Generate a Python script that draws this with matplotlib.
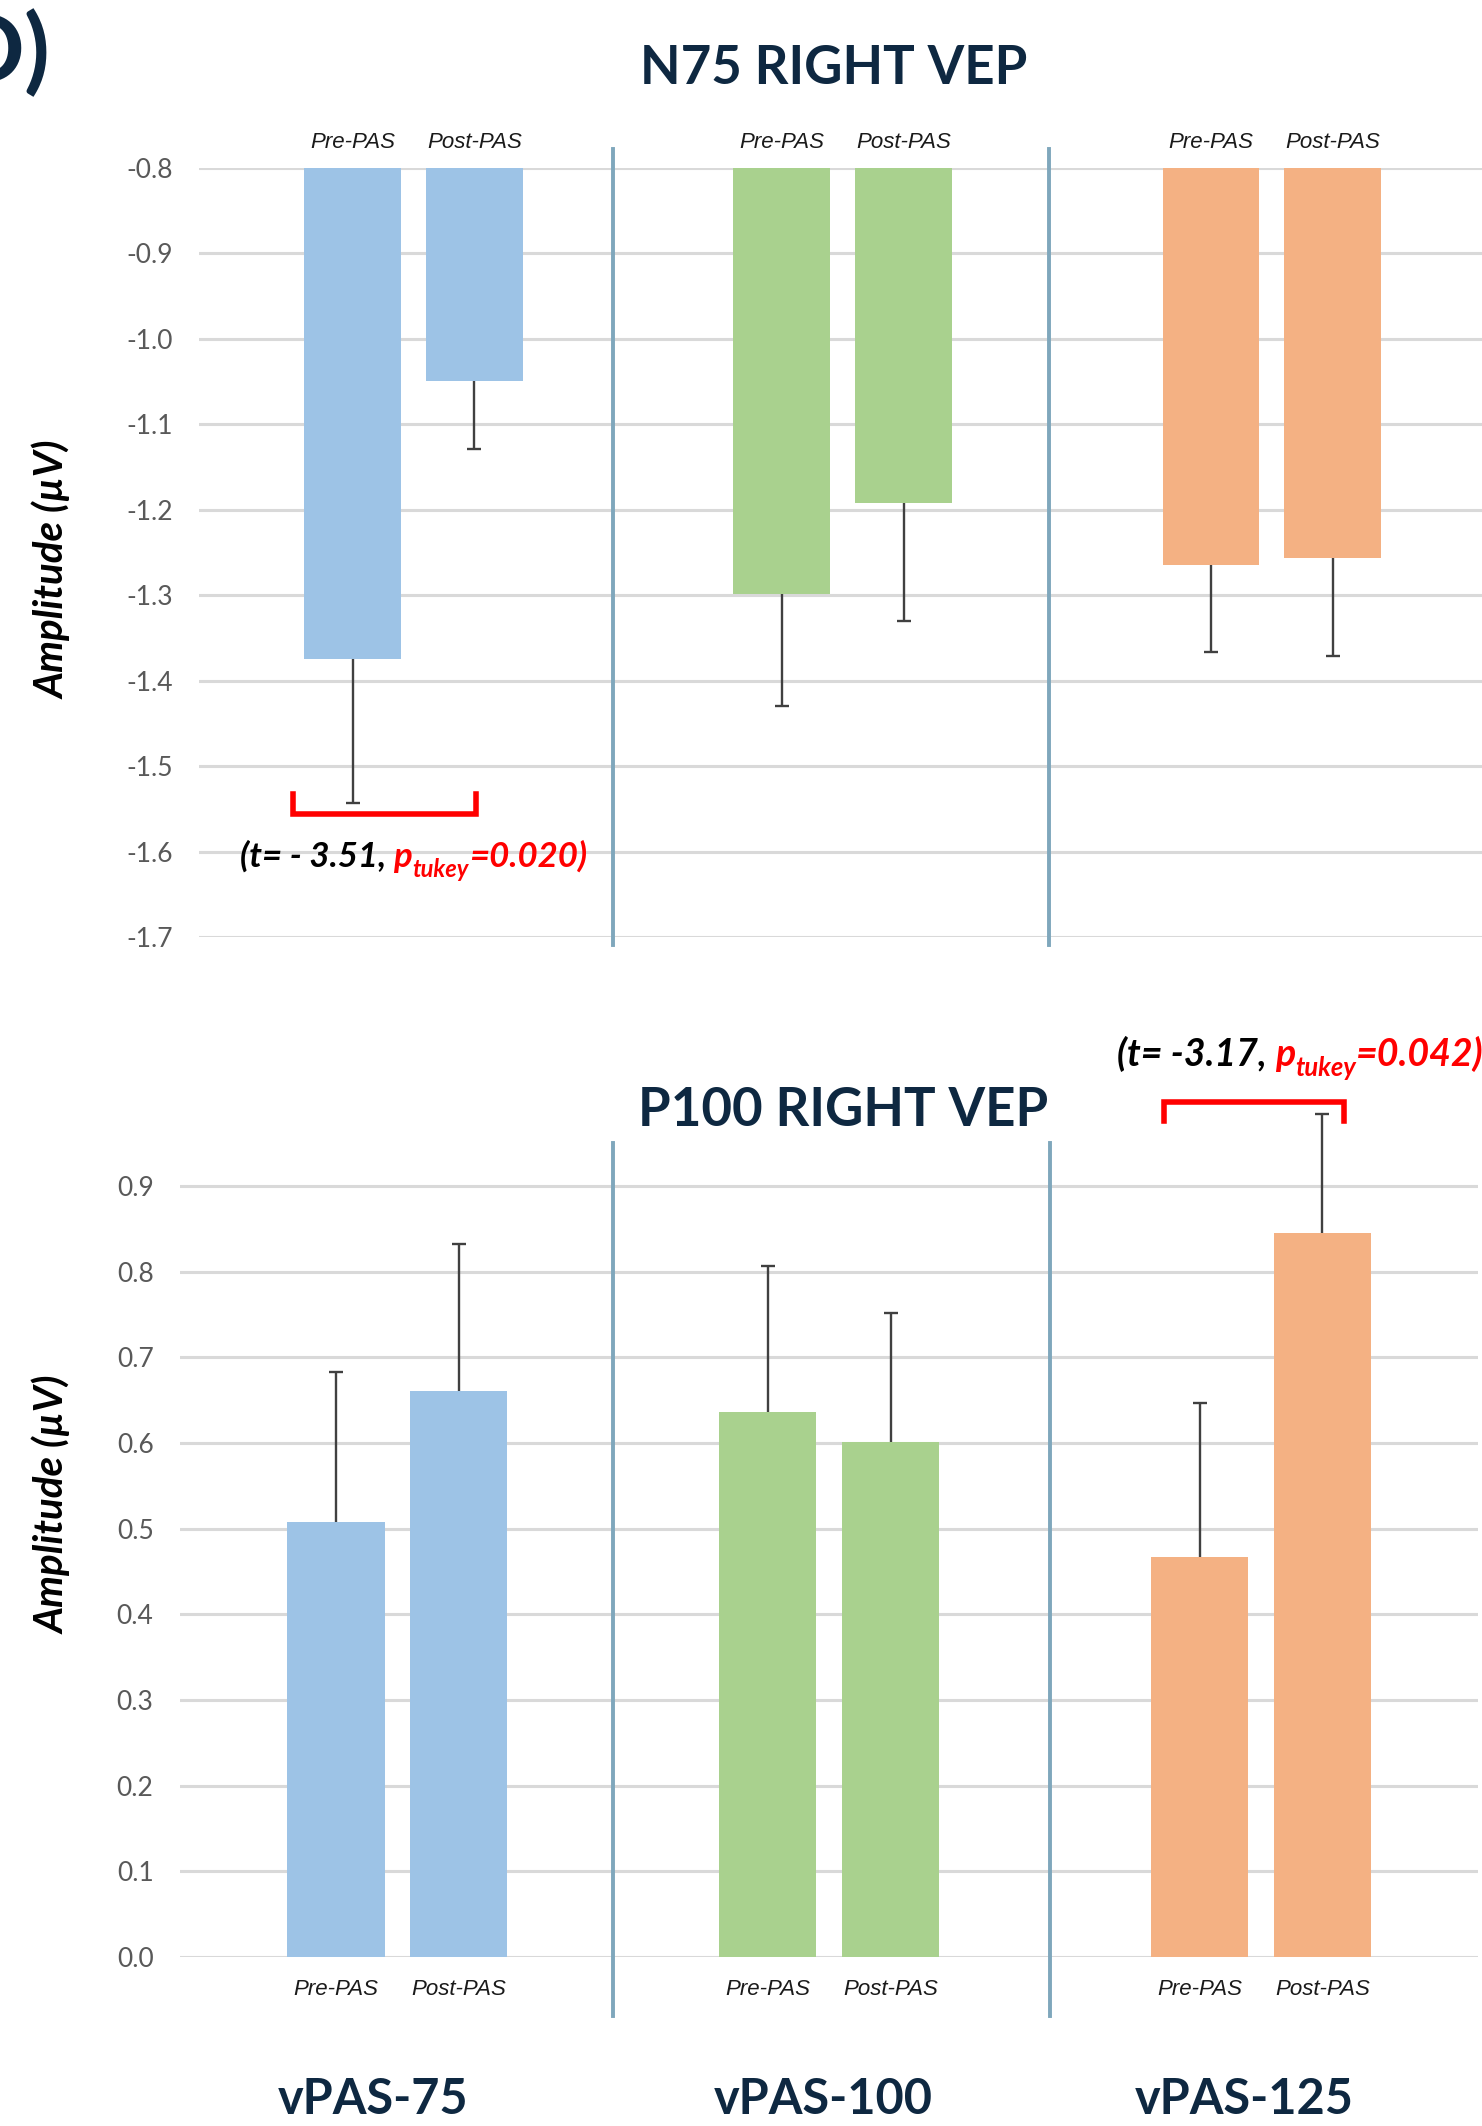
import numpy as np
import matplotlib
matplotlib.use("Agg")
import matplotlib.pyplot as plt

# ------------------------------------------------------------
# Dados
# ------------------------------------------------------------
groups = ["vPAS-75", "vPAS-100", "vPAS-125"]
conditions = ["Pre-PAS", "Post-PAS"]

n75_pre = [-1.375, -1.298, -1.265]
n75_pre_err = [0.168, 0.132, 0.102]
n75_post = [-1.049, -1.192, -1.256]
n75_post_err = [0.080, 0.138, 0.115]

p100_pre = [0.508, 0.636, 0.467]
p100_pre_err = [0.175, 0.171, 0.179]
p100_post = [0.660, 0.601, 0.845]
p100_post_err = [0.172, 0.151, 0.139]

n75_ticks = [-0.8, -0.9, -1.0, -1.1, -1.2, -1.3, -1.4, -1.5, -1.6, -1.7]
p100_ticks = [0.0, 0.1, 0.2, 0.3, 0.4, 0.5, 0.6, 0.7, 0.8, 0.9]

# ------------------------------------------------------------
# Estilo
# ------------------------------------------------------------
colors = ["#9DC3E6", "#A9D18E", "#F4B183"]
navy = "#0E2841"
grid_c = "#D9D9D9"
sep_c = "#7FA7BC"
err_c = "#404040"
tick_c = "#595959"
red = "#FF0000"
FONT = ["Lato", "DejaVu Sans"]
SMALL = ["Liberation Sans", "DejaVu Sans"]

W, H = 1482, 2126
fig = plt.figure(figsize=(W / 100, H / 100), dpi=100)
fig.patch.set_facecolor("white")

off = 0.142
bw = 0.225


def style_axes(ax, ticks, ylim, xlim):
    ax.set_ylim(*ylim)
    ax.set_xlim(*xlim)
    for s in ax.spines.values():
        s.set_visible(False)
    ax.set_yticks(ticks)
    ax.set_yticklabels([f"{t:.1f}" for t in ticks], color=tick_c,
                       fontsize=19, family=FONT)
    ax.tick_params(axis="y", length=0, pad=19)
    ax.tick_params(axis="x", length=0)
    for t in ticks:
        ax.axhline(t, color=grid_c, lw=2.2, zorder=0)
    ax.set_axisbelow(True)


def draw_bars(ax, pre, pre_err, post, post_err, base, down):
    x = np.arange(len(groups))
    xs, labs = [], []
    for i in range(len(groups)):
        for j, (v, e) in enumerate([(pre[i], pre_err[i]), (post[i], post_err[i])]):
            xi = x[i] + (off if j else -off)
            ax.bar(xi, v - base, bottom=base, width=bw, color=colors[i],
                   zorder=2)
            end = v - e if down else v + e
            # barra de erro de um só lado, com capa apenas na ponta
            ax.vlines(xi, v, end, color=err_c, lw=1.7, zorder=3,
                      clip_on=False)
            ax.plot([xi], [end], marker="_", ms=10, mew=1.7, color=err_c,
                    zorder=3, clip_on=False)
            xs.append(xi)
            labs.append(conditions[j])
    ax.set_xticks(xs)
    ax.set_xticklabels(labs, fontsize=16, style="italic", family=SMALL,
                       color="#1a1a1a")


def stat_label(ax, x, y, t_txt, p_val, fs=25):
    kw = dict(fontsize=fs, fontweight="bold", style="italic", family=FONT,
              annotation_clip=False)
    t1 = ax.annotate(t_txt, xy=(x, y), xycoords="data", va="center",
                     ha="left", color="black", **kw)
    t2 = ax.annotate("p", xy=(1, 0), xycoords=t1, va="bottom", ha="left",
                     color=red, **kw)
    kw_s = dict(kw)
    kw_s["fontsize"] = fs * 0.68
    t3 = ax.annotate("tukey", xy=(1, 0), xycoords=t2, xytext=(0, -6),
                     textcoords="offset points", va="bottom", ha="left",
                     color=red, **kw_s)
    ax.annotate(p_val, xy=(1, 0), xycoords=(t3, t2), va="bottom", ha="left",
                color=red, **kw)


# ------------------------------------------------------------
# N75 (painel superior)
# ------------------------------------------------------------
ax1 = fig.add_axes([199 / W, 1 - 937 / H, (W - 199) / W, 769 / H])
style_axes(ax1, n75_ticks, (-1.7, -0.8), (-0.500, 2.490))
draw_bars(ax1, n75_pre, n75_pre_err, n75_post, n75_post_err, -0.8, True)
ax1.xaxis.tick_top()
ax1.tick_params(axis="x", pad=11)
for xv in [0.464, 1.482]:
    ax1.axvline(xv, ymin=-0.011, ymax=1.025, color=sep_c, lw=2.8,
                clip_on=False, zorder=4)

# colchete de significância
bx = [-0.281, -0.281, 0.145, 0.145]
by = [-1.533, -1.556, -1.556, -1.533]
ax1.plot(bx, by, color=red, lw=4, solid_joinstyle="miter", zorder=5,
         clip_on=False)
stat_label(ax1, -0.405, -1.606, "(t= - 3.51, ", "=0.020)", fs=25)

# ------------------------------------------------------------
# P100 (painel inferior)
# ------------------------------------------------------------
ax2 = fig.add_axes([180 / W, 1 - 1957 / H, 1298 / W, 814 / H])
style_axes(ax2, p100_ticks, (0.0, 0.95), (-0.503, 2.502))
draw_bars(ax2, p100_pre, p100_pre_err, p100_post, p100_post_err, 0.0, False)
ax2.tick_params(axis="x", pad=16)
for xv in [0.499, 1.510]:
    ax2.axvline(xv, ymin=-0.073, ymax=1.0, color=sep_c, lw=2.8,
                clip_on=False, zorder=4)

bx = [1.774, 1.774, 2.192, 2.192]
by = [0.976, 0.998, 0.998, 0.976]
ax2.plot(bx, by, color=red, lw=4, solid_joinstyle="miter", zorder=5,
         clip_on=False)
stat_label(ax2, 1.667, 1.054, "(t= -3.17, ", "=0.042)", fs=27)

label_dx = [-0.057, -0.014, -0.038]
for i, g in enumerate(groups):
    ax2.annotate(g, xy=(i + label_dx[i], 1 - 2100 / H),
                 xycoords=("data", "figure fraction"),
                 ha="center", va="center", fontsize=35, fontweight="bold",
                 family=FONT, color=navy, annotation_clip=False)

# ------------------------------------------------------------
# Títulos e rótulos
# ------------------------------------------------------------
fig.text(834 / W, 1 - 68 / H, "N75 RIGHT VEP", ha="center", va="center",
         fontsize=38, fontweight="bold", family=FONT, color=navy)
fig.text(843 / W, 1 - 1111 / H, "P100 RIGHT VEP", ha="center", va="center",
         fontsize=38, fontweight="bold", family=FONT, color=navy)
for yc in [1 - 570 / H, 1 - 1505 / H]:
    fig.text(52 / W, yc, "Amplitude (µV)", rotation=90, ha="center",
             va="center", fontsize=29, fontweight="bold", style="italic",
             family=FONT, color="black")
fig.text(50 / W, 1 - 54 / H, "D)", ha="right", va="center", fontsize=68,
         fontweight="bold", family=FONT, color=navy)

fig.savefig("out.png", dpi=100, facecolor="white")
